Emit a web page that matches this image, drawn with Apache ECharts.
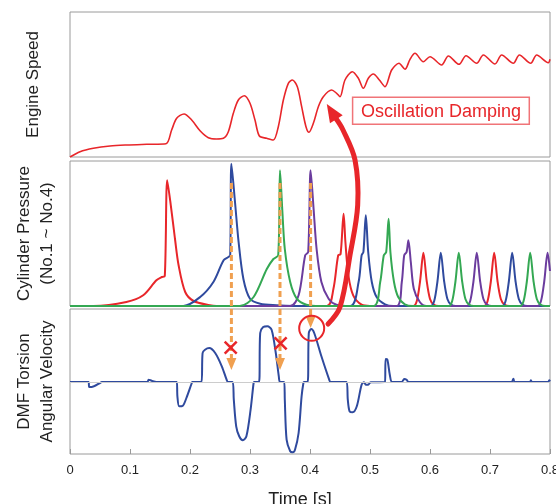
<!DOCTYPE html>
<html><head><meta charset="utf-8">
<script src="https://cdn.jsdelivr.net/npm/echarts@6/dist/echarts.min.js"></script>
<style>html,body{margin:0;padding:0;background:#fff}#c{width:556px;height:504px}</style>
</head><body><div id="c"></div>
<script>
// ---- data (time [s], value in arbitrary units) ----
const engineSpeed = [[0,0],[0.0167,5.3],[0.0389,8.7],[0.0667,11],[0.0944,12],[0.1278,12.7],[0.16,13.3],[0.1694,27],[0.1778,38.7],[0.19,43],[0.2028,37],[0.2167,26.3],[0.2306,19.3],[0.2444,18],[0.2556,18.7],[0.2639,25.3],[0.2722,43.7],[0.2806,57],[0.2906,61.3],[0.3,53.7],[0.3083,37],[0.3156,21],[0.3278,18.7],[0.3389,17],[0.3472,30.3],[0.3556,57],[0.3639,73.7],[0.3706,77],[0.3789,70.3],[0.3861,50.3],[0.3933,30.3],[0.3983,24.7],[0.4056,33.7],[0.4139,50.3],[0.4222,60.3],[0.4361,67],[0.4444,63.7],[0.45,60.3],[0.4583,77],[0.4706,85.3],[0.4806,78.7],[0.4889,68.7],[0.4972,78.7],[0.5056,83],[0.5156,77],[0.525,70.3],[0.5361,87],[0.5483,93.7],[0.5583,87.7],[0.5667,97.7],[0.575,103.7],[0.5889,95.3],[0.6,100.3],[0.6194,92],[0.6306,101],[0.6483,92.7],[0.66,101.3],[0.6778,93.7],[0.6889,102],[0.7083,93],[0.7194,102],[0.7389,93.7],[0.7489,102],[0.7678,93.7],[0.7778,102],[0.7972,94.3],[0.8,97.7]];

const cylRed = [[0,0],[0.039,0],[0.094,4],[0.122,10.7],[0.144,25.7],[0.153,29],[0.158,30],[0.162,125.7],[0.168,100.7],[0.175,67],[0.181,40.7],[0.192,14],[0.206,5],[0.233,0.7],[0.244,0],[0.428,0],[0.439,17],[0.447,50.7],[0.451,52],[0.456,92.3],[0.459,64],[0.464,30.7],[0.472,10.7],[0.486,1.3],[0.5,0],[0.572,0],[0.578,5],[0.5835,25],[0.589,53.3],[0.5945,25],[0.6,7],[0.606,1.5],[0.614,0],[0.69,0],[0.696,5],[0.7015,25],[0.707,53.3],[0.7125,25],[0.718,7],[0.724,1.5],[0.732,0],[0.8,0]];

const cylBlue = [[0,0],[0.189,0],[0.217,9],[0.239,24],[0.256,45.7],[0.264,49],[0.267,50.7],[0.269,142.3],[0.275,104],[0.281,64],[0.289,27],[0.3,7.3],[0.317,2.3],[0.344,0.7],[0.372,0],[0.467,0],[0.481,24],[0.486,50.7],[0.489,54],[0.493,90.7],[0.497,54],[0.503,24],[0.511,9],[0.525,1.7],[0.539,0],[0.601,0],[0.607,5],[0.6125,25],[0.618,53.3],[0.6235,25],[0.629,7],[0.635,1.5],[0.643,0],[0.72,0],[0.726,5],[0.7315,25],[0.737,53.3],[0.7425,25],[0.748,7],[0.754,1.5],[0.762,0],[0.8,0]];

const cylPurple = [[0,0],[0.367,0],[0.381,10.7],[0.392,50.7],[0.397,54],[0.401,135.7],[0.406,97],[0.411,57],[0.419,24],[0.431,7.3],[0.444,1.3],[0.467,0],[0.544,0],[0.553,24],[0.557,50.7],[0.561,54],[0.564,65.7],[0.568,44],[0.573,17.3],[0.583,4],[0.594,0],[0.661,0],[0.667,5],[0.6725,25],[0.678,53.3],[0.6835,25],[0.689,7],[0.695,1.5],[0.703,0],[0.779,0],[0.785,5],[0.7905,25],[0.796,53.3],[0.8,35]];

const cylGreen = [[0,0],[0.283,0],[0.306,9],[0.328,37],[0.339,47],[0.347,50.7],[0.35,135.7],[0.354,94],[0.358,57],[0.367,24],[0.378,7.3],[0.394,1.3],[0.417,0],[0.506,0],[0.517,24],[0.523,50.7],[0.527,54],[0.531,87.3],[0.534,54],[0.54,24],[0.547,9],[0.558,1.7],[0.572,0],[0.631,0],[0.637,5],[0.6425,25],[0.648,53.3],[0.6535,25],[0.659,7],[0.665,1.5],[0.673,0],[0.75,0],[0.756,5],[0.7615,25],[0.767,53.3],[0.7725,25],[0.778,7],[0.784,1.5],[0.792,0],[0.8,0]];

const dmfVelocity = [[0,0],[0.031,0],[0.032,-5],[0.036,-5],[0.05,-1],[0.053,0],[0.129,0],[0.131,2.3],[0.136,1.3],[0.144,0],[0.178,0],[0.179,-14.3],[0.182,-24.3],[0.188,-23.7],[0.194,-16],[0.203,-1],[0.204,0],[0.219,0],[0.221,29],[0.225,32.3],[0.232,34],[0.242,29],[0.253,15.7],[0.261,2.3],[0.263,0],[0.271,0],[0.273,-17.7],[0.277,-44.3],[0.282,-54.3],[0.288,-58.3],[0.294,-54.3],[0.301,-27.7],[0.306,-1],[0.307,0],[0.315,0],[0.317,49],[0.322,55],[0.329,55.7],[0.336,52.3],[0.343,29],[0.348,5.7],[0.35,0],[0.357,0],[0.358,-17.7],[0.361,-57.7],[0.367,-69.3],[0.371,-70.3],[0.375,-67.7],[0.381,-51],[0.386,-14.3],[0.389,-1],[0.39,0],[0.396,0],[0.398,49],[0.402,53],[0.407,49],[0.419,25.7],[0.432,2.3],[0.434,0],[0.461,0],[0.463,-17.7],[0.466,-29.3],[0.471,-30.3],[0.478,-24.3],[0.486,-2.7],[0.49,-0.3],[0.493,-2.7],[0.497,-2.7],[0.501,-0.3],[0.525,0],[0.526,23],[0.529,22.3],[0.533,7.3],[0.537,0],[0.553,0],[0.557,3],[0.561,2.3],[0.564,0],[0.736,0],[0.739,3.3],[0.741,0],[0.767,0],[0.768,1.7],[0.77,0],[0.797,0],[0.799,1.7],[0.8,0.7]];

const yNames = ['Engine Speed', 'Cylinder Pressure\n(No.1 ~ No.4)', 'DMF Torsion\nAngular Velocity'];
const xName = 'Time [s]';
const noteText = 'Oscillation Damping';
// annotations in data space
const orangeArrows = [[0.269, 123, 12], [0.35, 123, 12], [0.401, 123, 54]]; // t, from pressure, to velocity
const crosses = [[0.2678, 34.3], [0.351, 38.7]];
const circleMark = [0.4028, 53.7];
const bigArrowPath = [[2,0.43,58],[1,0.45,-1],[1,0.4667,51],[1,0.4795,101],[0,0.475,-3],[0,0.455,27]];
const bigArrowTip = [0, 0.428, 53];
const noteBox = [0.471, 59.7, 0.7655, 32.7];

const FONT = 'Liberation Sans, Arial, sans-serif';
const RED = '#E8262A', BLUE = '#2F4A9E', GREEN = '#34A853', PURPLE = '#6B3C9E', ORANGE = '#F0A050';

const chart = echarts.init(document.getElementById('c'), null, {renderer: 'canvas'});
const grids = [12, 161, 309].map(top => ({left: 70, right: 6, top: top, height: 145, show: true, borderColor: '#9a9a9a', borderWidth: 1, containLabel: false, outerBoundsMode: 'none'}));
const xAxes = [0,1,2].map(i => ({
  type: 'value', gridIndex: i, min: 0, max: 0.8, interval: 0.1, position: 'bottom',
  axisLine: {show: false, onZero: false}, splitLine: {show: false},
  axisTick: {show: i === 2, inside: true, length: 5, lineStyle: {color: '#999'}},
  axisLabel: {show: i === 2, margin: 10, fontSize: 13, color: '#222', fontFamily: FONT, hideOverlap: false},
  name: i === 2 ? xName : '', nameLocation: 'middle', nameGap: 37,
  nameTextStyle: {fontSize: 18, color: '#222', fontFamily: FONT, padding: [0, 20, 0, 0]}
}));
const yRanges = [[0,145],[0,145],[-72,73]];
const yGaps = [25, 11, 11];
const yAxes = [0,1,2].map(i => ({
  type: 'value', gridIndex: i, min: yRanges[i][0], max: yRanges[i][1],
  axisLine: {show: false, onZero: false}, axisTick: {show: false}, axisLabel: {show: false}, splitLine: {show: false},
  name: yNames[i], nameLocation: 'middle', nameRotate: 90, nameGap: yGaps[i],
  nameTextStyle: {fontSize: 17, color: '#222', fontFamily: FONT, lineHeight: 23}
}));
function line(data, xi, color, w) {
  return {type: 'line', xAxisIndex: xi, yAxisIndex: xi, data: data, showSymbol: false, symbol: 'none',
    smooth: 0.3, lineStyle: {color: color, width: w}, itemStyle: {color: color}, silent: true};
}
const dmf = line(dmfVelocity, 2, BLUE, 2);
dmf.markLine = {silent: true, symbol: 'none', data: [{yAxis: 0}], label: {show: false}, lineStyle: {color: '#ccc', width: 1, type: 'solid'}};
dmf.z = 3;
const option = {
  animation: false,
  grid: grids, xAxis: xAxes, yAxis: yAxes,
  series: [
    line(engineSpeed, 0, RED, 1.6),
    line(cylRed, 1, RED, 2),
    line(cylBlue, 1, BLUE, 2),
    line(cylPurple, 1, PURPLE, 2),
    line(cylGreen, 1, GREEN, 2),
    dmf
  ]
};
chart.setOption(option);

const P = (g, t, v) => chart.convertToPixel({gridIndex: g}, [t, v]);
const gfx = [];
orangeArrows.forEach(a => {
  const s = P(1, a[0], a[1]), e = P(2, a[0], a[2]);
  const hl = 12, hw = 5;
  gfx.push({type: 'line', z: 100, shape: {x1: s[0], y1: s[1], x2: e[0], y2: e[1] - hl}, style: {stroke: ORANGE, lineWidth: 3, lineDash: [6, 3]}});
  gfx.push({type: 'polygon', z: 100, shape: {points: [[e[0] - hw, e[1] - hl], [e[0] + hw, e[1] - hl], [e[0], e[1]]]}, style: {fill: ORANGE}});
});
crosses.forEach(c => {
  const p = P(2, c[0], c[1]), h = 6;
  gfx.push({type: 'line', z: 101, shape: {x1: p[0]-h, y1: p[1]-h, x2: p[0]+h, y2: p[1]+h}, style: {stroke: RED, lineWidth: 2.5}});
  gfx.push({type: 'line', z: 101, shape: {x1: p[0]-h, y1: p[1]+h, x2: p[0]+h, y2: p[1]-h}, style: {stroke: RED, lineWidth: 2.5}});
});
{
  const p = P(2, circleMark[0], circleMark[1]);
  gfx.push({type: 'circle', z: 101, shape: {cx: p[0], cy: p[1], r: 12.5}, style: {fill: 'none', stroke: RED, lineWidth: 2}});
}
{
  const pts = bigArrowPath.map(a => P(a[0], a[1], a[2]));
  const tip = P(bigArrowTip[0], bigArrowTip[1], bigArrowTip[2]);
  const last = pts[pts.length - 1];
  let dx = tip[0] - last[0], dy = tip[1] - last[1];
  const L = Math.hypot(dx, dy); dx /= L; dy /= L;
  const hl = 18, hw = 7.5;
  const base = [tip[0] - hl * dx, tip[1] - hl * dy];
  pts.push([base[0] + 2 * dx, base[1] + 2 * dy]);
  gfx.push({type: 'polyline', z: 102, shape: {points: pts, smooth: 0.35}, style: {stroke: RED, lineWidth: 5, fill: null, lineCap: 'round'}});
  gfx.push({type: 'polygon', z: 102, shape: {points: [tip, [base[0] - hw * dy, base[1] + hw * dx], [base[0] + hw * dy, base[1] - hw * dx]]}, style: {fill: RED}});
}
{
  const a = P(0, noteBox[0], noteBox[1]), b = P(0, noteBox[2], noteBox[3]);
  gfx.push({type: 'rect', z: 103, shape: {x: a[0], y: a[1], width: b[0] - a[0], height: b[1] - a[1]}, style: {fill: '#fff', stroke: '#F07478', lineWidth: 1.5}});
  gfx.push({type: 'text', z: 104, x: (a[0] + b[0]) / 2, y: (a[1] + b[1]) / 2 + 1, style: {text: noteText, fill: RED, font: '18px ' + FONT, align: 'center', verticalAlign: 'middle'}});
}
chart.setOption({graphic: {elements: gfx}});
</script></body></html>
